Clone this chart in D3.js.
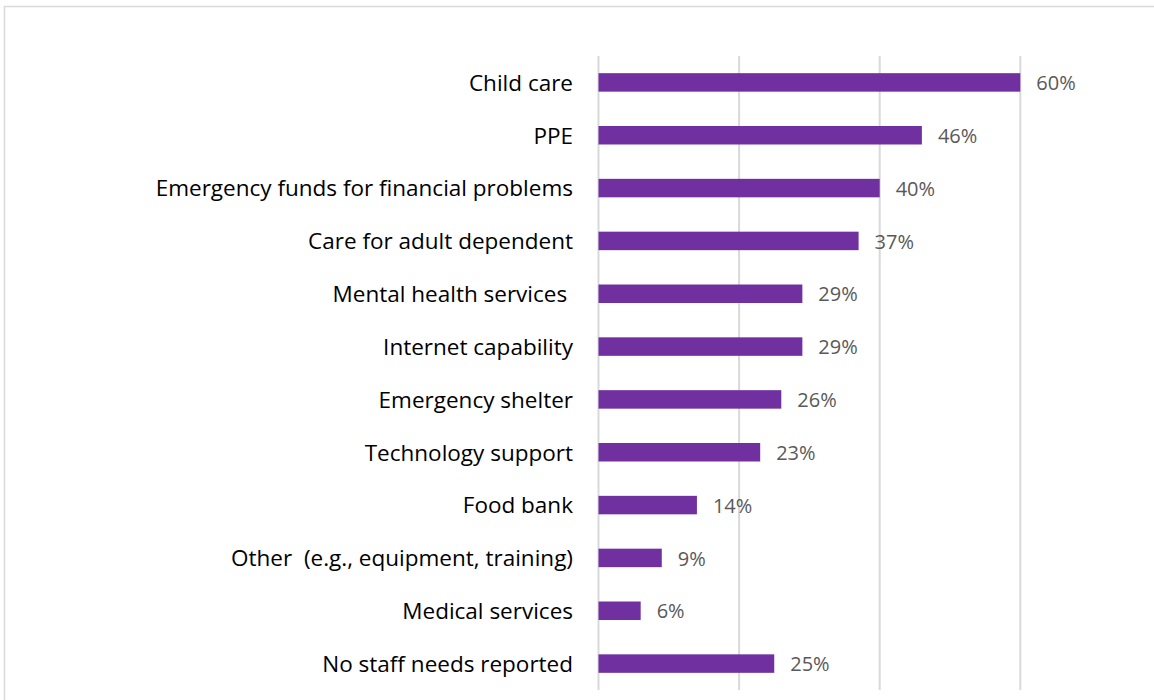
<!DOCTYPE html>
<html>
<head>
<meta charset="utf-8">
<script src="https://cdn.jsdelivr.net/npm/d3@7"></script>
<style>
  html, body { margin: 0; padding: 0; background: #fff; }
  svg { display: block; }
</style>
</head>
<body>
<svg id="chart" width="1154" height="700"></svg>
<script>
// Staff support needs, share of respondents
const categories = [
  "Child care",
  "PPE",
  "Emergency funds for financial problems",
  "Care for adult dependent",
  "Mental health services ",
  "Internet capability",
  "Emergency shelter",
  "Technology support",
  "Food bank",
  "Other  (e.g., equipment, training)",
  "Medical services",
  "No staff needs reported"
];
const values = [60, 46, 40, 37, 29, 29, 26, 23, 14, 9, 6, 25];
const gridTicks = [0, 20, 40, 60];

const svg = d3.select("#chart");
const W = 1154, H = 700;
const FONT = "'Open Sans', sans-serif";

// outer chart frame
svg.append("rect")
  .attr("x", 4.5).attr("y", 6.5)
  .attr("width", W + 10).attr("height", H + 10)
  .attr("fill", "#fff")
  .attr("stroke", "#d9d9d9")
  .attr("stroke-width", 1.5);

const x = d3.scaleLinear().domain([0, 60]).range([598.5, 1020.3]);
const y = d3.scaleBand().domain(categories).range([56, 690]).paddingInner(0.65).paddingOuter(0.325);

// vertical gridlines
svg.append("g")
  .selectAll("line")
  .data(gridTicks)
  .join("line")
  .attr("x1", d => x(d)).attr("x2", d => x(d))
  .attr("y1", 56).attr("y2", 690)
  .attr("stroke", "#d9d9d9")
  .attr("stroke-width", 2);

// bars
svg.append("g")
  .selectAll("rect")
  .data(values)
  .join("rect")
  .attr("x", x(0))
  .attr("y", (d, i) => y(categories[i]))
  .attr("width", d => x(d) - x(0))
  .attr("height", y.bandwidth())
  .attr("fill", "#7030a0");

// category labels
const yAxis = d3.axisLeft(y).tickSize(0).tickPadding(0);
const ag = svg.append("g").attr("transform", "translate(573,0)").call(yAxis);
ag.select(".domain").remove();
ag.selectAll("text")
  .attr("fill", "#000")
  .style("font-family", FONT)
  .style("font-size", "22.5px")
  .style("white-space", "pre")
  .attr("dy", "0.37em");

// value labels
svg.append("g")
  .selectAll("text")
  .data(values)
  .join("text")
  .attr("x", d => x(d) + 16)
  .attr("y", (d, i) => y(categories[i]) + y.bandwidth() / 2)
  .attr("dy", "0.38em")
  .attr("fill", "#595959")
  .style("font-family", FONT)
  .style("font-size", "20px")
  .text(d => d + "%");
</script>
</body>
</html>
